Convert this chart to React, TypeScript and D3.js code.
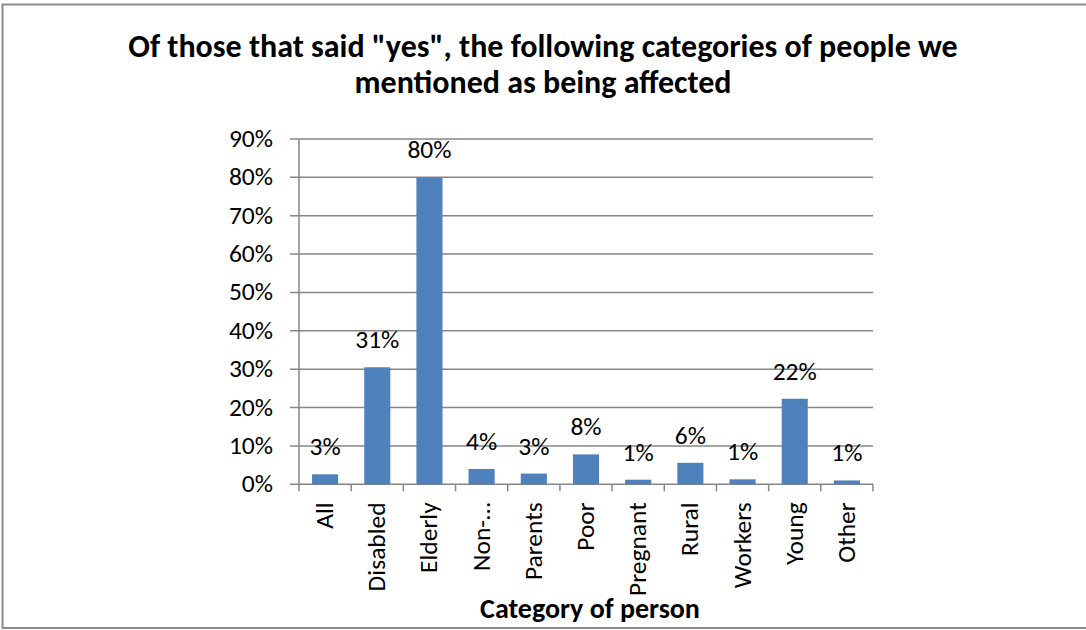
import React from "react";
import * as d3 from "d3";

const categories = ["All", "Disabled", "Elderly", "Non-…", "Parents", "Poor", "Pregnant", "Rural", "Workers", "Young", "Other"];
const values = [0.026, 0.305, 0.80, 0.04, 0.028, 0.078, 0.012, 0.056, 0.013, 0.223, 0.01];
const valueLabels = ["3%", "31%", "80%", "4%", "3%", "8%", "1%", "6%", "1%", "22%", "1%"];
const yTicks = [0, 0.1, 0.2, 0.3, 0.4, 0.5, 0.6, 0.7, 0.8, 0.9];
const titleLines = ['Of those that said "yes", the following categories of people we', "mentioned as being affected"];
const xTitle = "Category of person";

const W = 1086, H = 630;
const left = 299, right = 873, top = 139, bottom = 484.3;
const font = "Calibri, Carlito, 'Liberation Sans', Arial, sans-serif";

export default function App() {
  const x = d3.scaleBand<string>().domain(categories).range([left, right]).paddingInner(0.5).paddingOuter(0.25);
  const xb = d3.scaleBand<string>().domain(categories).range([left, right]);
  const y = d3.scaleLinear().domain([0, 0.9]).range([bottom, top]);
  const fmt = d3.format(".0%");
  return (
    <svg width={W} height={H} style={{ position: "absolute", left: 0, top: 0, background: "#fff" }}>
      <rect x={0} y={0} width={W} height={H} fill="#fff" />
      <rect x={2.5} y={4.5} width={W + 10} height={623.5} fill="none" stroke="#8c8c8c" strokeWidth={2} />
      {titleLines.map((t, i) => (
        <text key={i} x={543} y={57 + i * 36} textAnchor="middle" fontFamily={font} fontWeight="bold" fontSize={32} fill="#000">{t}</text>
      ))}
      {yTicks.map((t) => (
        <g key={t}>
          <line x1={290} x2={right} y1={y(t)} y2={y(t)} stroke="#868686" strokeWidth={1.5} />
          <text x={273} y={y(t) + 8} textAnchor="end" fontFamily={font} fontSize={25.5} fill="#000">{fmt(t)}</text>
        </g>
      ))}
      <line x1={left} x2={left} y1={top} y2={bottom} stroke="#868686" strokeWidth={1.5} />
      {categories.map((c, i) => (
        <line key={"t" + i} x1={xb(c)!} x2={xb(c)!} y1={bottom} y2={bottom + 7} stroke="#868686" strokeWidth={1.5} />
      ))}
      <line x1={right} x2={right} y1={bottom} y2={bottom + 7} stroke="#868686" strokeWidth={1.5} />
      {categories.map((c, i) => (
        <g key={c}>
          <rect x={x(c)!} y={y(values[i])} width={x.bandwidth()} height={bottom - y(values[i])} fill="#4F81BD" />
          <text x={x(c)! + x.bandwidth() / 2} y={y(values[i]) - 19} textAnchor="middle" fontFamily={font} fontSize={25.5} fill="#000">{valueLabels[i]}</text>
          <text transform={`translate(${x(c)! + x.bandwidth() / 2 + 8},${bottom + 18}) rotate(-90)`} textAnchor="end" fontFamily={font} fontSize={25.5} fill="#000">{c}</text>
        </g>
      ))}
      <text x={590} y={618} textAnchor="middle" fontFamily={font} fontWeight="bold" fontSize={28} fill="#000">{xTitle}</text>
    </svg>
  );
}
